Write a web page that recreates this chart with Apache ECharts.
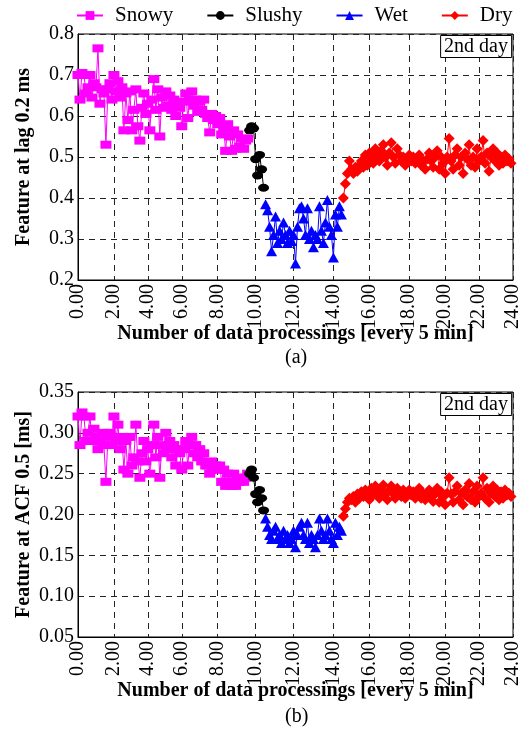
<!DOCTYPE html>
<html><head><meta charset="utf-8">
<script src="https://cdn.jsdelivr.net/npm/echarts@6/dist/echarts.min.js"></script>
<style>html,body{margin:0;padding:0;background:#fff}#c{width:529px;height:742px}</style>
</head><body><div id="c"></div>
<script>
// x positions are sample indices; tick labels mark the hours
const xTickPos = [0, 18, 35, 52, 70, 89, 108, 128, 146, 166, 184, 201, 218];
const xTickLabels = ['0.00','2.00','4.00','6.00','8.00','10.00','12.00','14.00','16.00','18.00','20.00','22.00','24.00'];
const seriesNames = ['Snowy', 'Slushy', 'Wet', 'Dry'];

// (a) Feature at lag 0.2 ms
const lagSnowy = [0.70,0.64,0.705,0.70,0.655,0.67,0.70,0.645,0.68,0.67,0.765,0.63,0.665,0.655,0.53,0.665,0.68,0.64,0.70,0.66,
  0.685,0.645,0.67,0.565,0.655,0.59,0.66,0.565,0.615,0.665,0.575,0.54,0.62,0.655,0.605,0.63,0.565,0.64,0.69,0.615,
  0.665,0.55,0.645,0.62,0.66,0.625,0.65,0.615,0.64,0.60,0.63,0.62,0.575,0.635,0.655,0.595,0.64,0.66,0.625,0.64,
  0.61,0.635,0.615,0.64,0.605,0.595,0.56,0.605,0.59,0.60,0.58,0.595,0.555,0.57,0.515,0.58,0.55,0.515,0.565,0.52,
  0.555,0.525,0.545,0.52,0.54,0.545];
const lagSlushy = [0.565,0.575,0.57,0.495,0.455,0.505,0.47,0.425];
const lagWet = [0.385,0.37,0.33,0.27,0.31,0.355,0.29,0.32,0.30,0.34,0.31,0.29,0.32,0.295,0.31,0.24,0.33,0.375,0.38,0.35,
  0.31,0.375,0.30,0.32,0.28,0.31,0.30,0.38,0.32,0.29,0.34,0.395,0.33,0.31,0.255,0.36,0.33,0.38,0.36];
const lagDry = [0.40,0.435,0.46,0.49,0.47,0.46,0.475,0.465,0.48,0.49,0.475,0.505,0.48,0.51,0.495,0.485,0.52,0.505,0.49,0.515,
  0.53,0.50,0.48,0.51,0.535,0.50,0.485,0.52,0.505,0.49,0.50,0.48,0.495,0.505,0.49,0.50,0.485,0.495,0.505,0.48,
  0.49,0.47,0.495,0.51,0.49,0.475,0.50,0.515,0.47,0.50,0.485,0.46,0.50,0.545,0.49,0.47,0.505,0.52,0.48,0.50,
  0.46,0.51,0.495,0.53,0.48,0.50,0.475,0.52,0.49,0.50,0.54,0.485,0.51,0.465,0.50,0.52,0.49,0.51,0.48,0.50,
  0.485,0.505,0.49,0.495,0.485];

// (b) Feature at ACF 0.5 [ms]
const acfSnowy = [0.32,0.285,0.325,0.32,0.29,0.30,0.32,0.29,0.305,0.295,0.28,0.29,0.30,0.285,0.24,0.295,0.30,0.285,0.32,0.29,
  0.31,0.28,0.295,0.255,0.29,0.25,0.295,0.26,0.27,0.31,0.265,0.245,0.275,0.29,0.265,0.28,0.25,0.285,0.31,0.27,
  0.295,0.245,0.285,0.275,0.30,0.28,0.29,0.27,0.285,0.26,0.28,0.275,0.255,0.28,0.29,0.26,0.285,0.295,0.275,0.285,
  0.27,0.28,0.265,0.275,0.26,0.26,0.25,0.265,0.255,0.26,0.255,0.26,0.24,0.255,0.235,0.25,0.24,0.235,0.25,0.235,
  0.245,0.24,0.245,0.24,0.245,0.25];
const acfSlushy = [0.25,0.255,0.245,0.225,0.215,0.23,0.22,0.205];
const acfWet = [0.195,0.185,0.175,0.17,0.18,0.185,0.17,0.175,0.165,0.18,0.17,0.175,0.165,0.17,0.18,0.16,0.175,0.185,0.19,0.175,
  0.17,0.19,0.165,0.175,0.17,0.16,0.175,0.195,0.18,0.17,0.175,0.195,0.18,0.17,0.165,0.19,0.175,0.185,0.18];
const acfDry = [0.198,0.207,0.215,0.22,0.218,0.222,0.215,0.225,0.22,0.228,0.222,0.23,0.225,0.218,0.232,0.225,0.235,0.228,0.22,0.23,
  0.236,0.225,0.218,0.23,0.235,0.225,0.22,0.232,0.228,0.222,0.23,0.22,0.226,0.23,0.224,0.228,0.22,0.226,0.232,0.22,
  0.225,0.218,0.226,0.23,0.222,0.216,0.225,0.232,0.215,0.228,0.222,0.212,0.226,0.245,0.225,0.215,0.228,0.235,0.218,0.226,
  0.212,0.23,0.222,0.238,0.218,0.228,0.215,0.235,0.222,0.226,0.245,0.22,0.232,0.215,0.226,0.235,0.222,0.23,0.218,0.228,
  0.22,0.23,0.224,0.226,0.222];

const FONT = "'Liberation Serif', 'DejaVu Serif', serif";
const colors = ['#ff00ff', '#000000', '#0000ff', '#ff0000'];
const symbols = ['rect', 'circle', 'triangle', 'diamond'];
const symbolSizes = [[11, 8], [11, 8], [11, 10], [11, 11]];

function indexed(groups) {
  let start = 0;
  return groups.map(g => {
    const d = g.map((v, k) => [start + k, v]);
    start += g.length;
    return d;
  });
}
const lagData = indexed([lagSnowy, lagSlushy, lagWet, lagDry]);
const acfData = indexed([acfSnowy, acfSlushy, acfWet, acfDry]);

function makeX(gridIndex) {
  return {
    type: 'value', gridIndex, min: 0, max: 218,
    axisLine: { show: true, lineStyle: { color: '#000', width: 1 } },
    axisTick: { show: false, customValues: xTickPos },
    axisLabel: {
      customValues: xTickPos, rotate: 90, fontFamily: FONT, fontSize: 20, color: '#000', margin: 4,
      formatter: v => xTickLabels[xTickPos.indexOf(v)]
    },
    splitLine: { show: true, lineStyle: { color: '#222', type: [6, 5], width: 1 } },
    name: 'Number of data processings [every 5 min]',
    nameLocation: 'middle', nameGap: 44, nameMoveOverlap: false,
    nameTextStyle: { fontFamily: FONT, fontSize: 20, fontWeight: 'bold', color: '#000' }
  };
}
function makeY(gridIndex, min, max, interval, dec, name) {
  return {
    type: 'value', gridIndex, min, max, interval,
    axisLine: { show: true, lineStyle: { color: '#000', width: 1 } },
    axisTick: { show: false },
    axisLabel: { fontFamily: FONT, fontSize: 20, color: '#000', margin: 4, formatter: v => v.toFixed(dec) },
    splitLine: { show: true, lineStyle: { color: '#222', type: [6, 5], width: 1 } },
    name, nameLocation: 'middle', nameGap: 44, nameMoveOverlap: false,
    nameTextStyle: { fontFamily: FONT, fontSize: 20, fontWeight: 'bold', color: '#000' }
  };
}
function makeSeries(data, gi) {
  return data.map((d, k) => ({
    name: seriesNames[k], type: 'line', xAxisIndex: gi, yAxisIndex: gi, data: d,
    symbol: symbols[k], symbolSize: symbolSizes[k], showAllSymbol: true,
    lineStyle: { color: colors[k], width: 1 }, itemStyle: { color: colors[k] },
    animation: false
  }));
}
const boxTitle = (top) => ({
  text: '2nd day', right: 17, top, borderColor: '#000', borderWidth: 1, backgroundColor: '#fff',
  padding: [2, 4, 1, 4], textStyle: { fontFamily: FONT, fontSize: 20, fontWeight: 'normal', color: '#000' }
});
const capTitle = (text, top) => ({
  text, left: 285, top, padding: 0,
  textStyle: { fontFamily: FONT, fontSize: 20, fontWeight: 'normal', color: '#000' }
});

const chart = echarts.init(document.getElementById('c'), null, { renderer: 'canvas' });
chart.setOption({
  backgroundColor: '#fff',
  animation: false,
  textStyle: { fontFamily: FONT },
  title: [boxTitle(35), boxTitle(393), capTitle('(a)', 348), capTitle('(b)', 707)],
  legend: {
    data: seriesNames, top: 5, left: 76, itemGap: 33, itemWidth: 26, itemHeight: 11, padding: 0,
    textStyle: { fontFamily: FONT, fontSize: 21, color: '#000', padding: [0, 0, 0, 7] }
  },
  grid: [
    { left: 78, right: 16, top: 34, height: 246, show: true, borderColor: '#000', borderWidth: 1 },
    { left: 78, right: 16, top: 392, height: 245, show: true, borderColor: '#000', borderWidth: 1 }
  ],
  xAxis: [makeX(0), makeX(1)],
  yAxis: [
    makeY(0, 0.2, 0.8, 0.1, 1, 'Feature at lag 0.2 ms'),
    makeY(1, 0.05, 0.35, 0.05, 2, 'Feature at ACF 0.5 [ms]')
  ],
  series: [...makeSeries(lagData, 0), ...makeSeries(acfData, 1)]
});
</script></body></html>
